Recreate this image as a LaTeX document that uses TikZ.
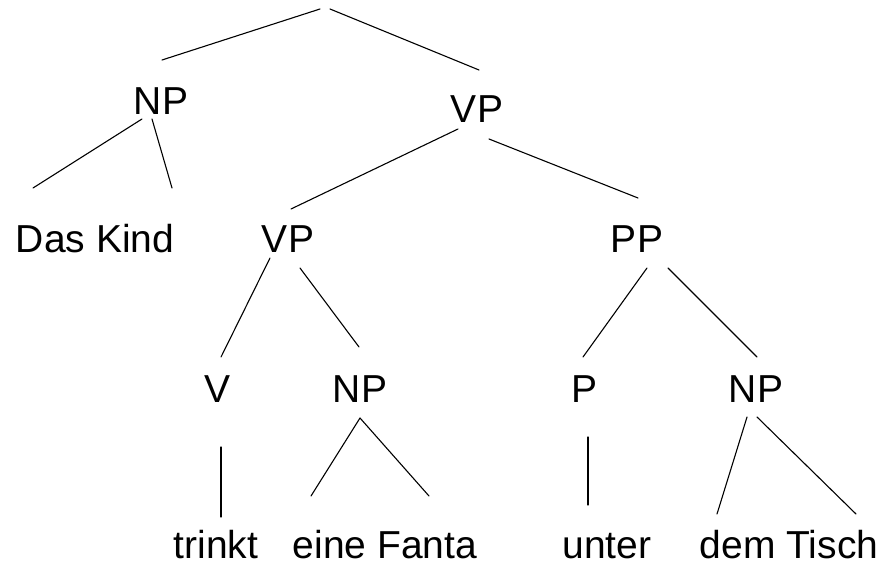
\documentclass[tikz,border=0pt]{standalone}
\usepackage{fontspec}
\setmainfont{Liberation Sans}
\begin{document}
\begin{tikzpicture}[x=1pt,y=-1pt,
  lbl/.style={anchor=base,inner sep=0pt,font=\fontsize{39}{47}\selectfont},
  edge/.style={line width=1.1pt,line cap=round}]
\useasboundingbox (0,0) rectangle (893,564);
% tree nodes (placed at their baselines)
\coordinate (root) at (325,9);
\node[lbl] (np1) at (161,115) {NP};
\node[lbl] (vp1) at (477,123) {VP};
\node[lbl] (dk)  at (95,252)  {Das Kind};
\node[lbl] (vp2) at (288,252) {VP};
\node[lbl] (pp)  at (637,252) {PP};
\node[lbl] (v)   at (218,402) {V};
\node[lbl] (np2) at (360,402) {NP};
\node[lbl] (p)   at (584,402) {P};
\node[lbl] (np3) at (756,402) {NP};
\node[lbl] (tr)  at (216,558) {trinkt};
\node[lbl] (ef)  at (385,558) {eine Fanta};
\node[lbl] (un)  at (607,558) {unter};
\node[lbl] (dt)  at (789,558) {dem Tisch};
% branches
\draw[edge] ([shift={(-5,0)}]root) -- ([shift={(1,-55)}]np1.base);
\draw[edge] ([shift={(5,0)}]root) -- ([shift={(2,-53)}]vp1.base);
\draw[edge] ([shift={(-19,4)}]np1.base) -- ([shift={(-62,-64)}]dk.base);
\draw[edge] ([shift={(-9,4)}]np1.base) -- ([shift={(77,-64)}]dk.base);
\draw[edge] ([shift={(-19,6)}]vp1.base) -- ([shift={(3,-43)}]vp2.base);
\draw[edge] ([shift={(12,16)}]vp1.base) -- ([shift={(1,-54)}]pp.base);
\draw[edge] ([shift={(-18,6)}]vp2.base) -- ([shift={(3,-45)}]v.base);
\draw[edge] ([shift={(12,16)}]vp2.base) -- ([shift={(-1,-55)}]np2.base);
\draw[edge] ([shift={(10,16)}]pp.base) -- ([shift={(-1,-45)}]p.base);
\draw[edge] ([shift={(31,16)}]pp.base) -- ([shift={(1,-45)}]np3.base);
\draw[edge] ([shift={(3,45)}]v.base) -- ([shift={(5,-41)}]tr.base);
\draw[edge] ([shift={(0,16)}]np2.base) -- ([shift={(-74,-62)}]ef.base);
\draw[edge] ([shift={(0,16)}]np2.base) -- ([shift={(44,-62)}]ef.base);
\draw[edge] ([shift={(4,35)}]p.base) -- ([shift={(-19,-53)}]un.base);
\draw[edge] ([shift={(-9,15)}]np3.base) -- ([shift={(-72,-44)}]dt.base);
\draw[edge] ([shift={(1,15)}]np3.base) -- ([shift={(67,-44)}]dt.base);
\end{tikzpicture}
\end{document}
